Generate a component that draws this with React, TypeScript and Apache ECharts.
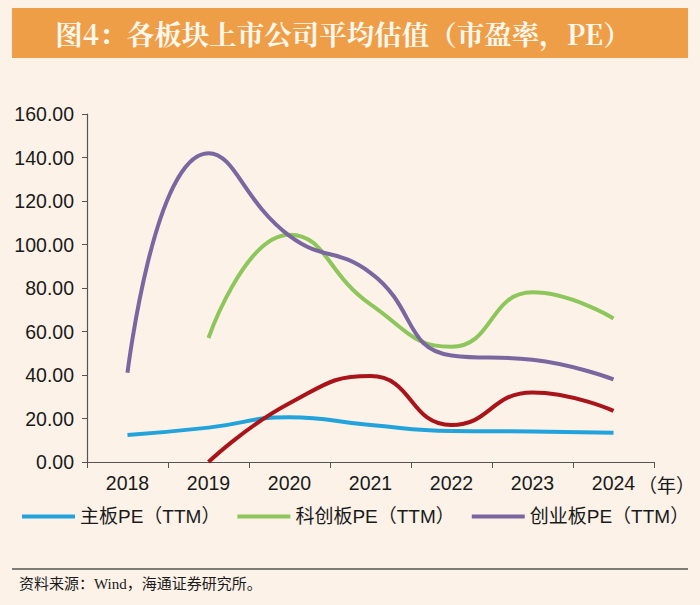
import React, { useEffect, useRef } from "react";
import * as echarts from "echarts";

const years = ["2018", "2019", "2020", "2021", "2022", "2023", "2024"];
const mainBoard = [12.4, 15.8, 20.6, 17.0, 14.3, 14.0, 13.5];
const starMarket = [null, 57.0, 104.5, 72.5, 53.0, 78.0, 66.0];
const chiNext = [41.0, 142.0, 104.0, 87.0, 49.0, 47.0, 38.0];
const redSeries = [null, 0, 27.0, 39.5, 17.0, 32.0, 23.5];
const seriesNames = ["主板PE（TTM）", "科创板PE（TTM）", "创业板PE（TTM）"];
const yTicks = { min: 0, max: 160, interval: 20 };

const FONT = "'Liberation Sans', Arial, 'Noto Sans CJK SC', sans-serif";

export default function App() {
  const ref = useRef<HTMLDivElement>(null);
  useEffect(() => {
    document.body.style.margin = "0";
    const chart = echarts.init(ref.current!, null, { renderer: "svg" });
    const lineSeries = (name: string, data: any[], color: string) => ({
      name,
      type: "line",
      data,
      smooth: true,
      symbol: "none",
      connectNulls: false,
      lineStyle: { color, width: 4 },
      itemStyle: { color },
    });
    chart.setOption({
      animation: false,
      backgroundColor: "#FCF2E8",
      textStyle: { fontFamily: FONT },
      grid: { left: 87, right: 46, top: 114, bottom: 143 },
      legend: {
        data: seriesNames,
        left: 22,
        top: 507,
        width: 690,
        padding: 0,
        icon: "rect",
        itemWidth: 53,
        itemHeight: 4,
        itemGap: 17,
        textStyle: { fontSize: 19, color: "#1a1a1a", fontFamily: FONT },
      },
      xAxis: {
        type: "category",
        data: years,
        boundaryGap: true,
        axisLine: { lineStyle: { color: "#555", width: 1.2 } },
        axisTick: { show: true, length: 6, lineStyle: { color: "#555" } },
        axisLabel: { fontSize: 19.5, color: "#1a1a1a", margin: 11, fontFamily: FONT },
      },
      yAxis: {
        type: "value",
        min: yTicks.min,
        max: yTicks.max,
        interval: yTicks.interval,
        splitLine: { show: false },
        axisLine: { show: true, lineStyle: { color: "#555", width: 1.2 } },
        axisTick: { show: true, length: 5, lineStyle: { color: "#555" } },
        axisLabel: {
          fontSize: 19.5,
          color: "#1a1a1a",
          margin: 13,
          fontFamily: FONT,
          formatter: (v: number) => v.toFixed(2),
        },
      },
      series: [
        lineSeries(seriesNames[0], mainBoard, "#22A3DC"),
        lineSeries(seriesNames[1], starMarket, "#8DC65A"),
        lineSeries(seriesNames[2], chiNext, "#7B67A0"),
        lineSeries("red", redSeries, "#A8141A"),
      ],
      graphic: [
        {
          type: "rect",
          shape: { x: 12, y: 8, width: 676, height: 50 },
          style: { fill: "#EF9E48" },
          silent: true,
        },
        {
          type: "text",
          x: 343,
          y: 33,
          style: {
            text: "图4：各板块上市公司平均估值（市盈率，PE）",
            fill: "#FFF8EE",
            font: "bold 27.5px 'Noto Serif CJK SC', 'Noto Sans CJK SC', serif",
            align: "center",
            verticalAlign: "middle",
          },
        },
        {
          type: "text",
          x: 638,
          y: 484,
          style: {
            text: "（年）",
            fill: "#1a1a1a",
            font: "19px 'Noto Sans CJK SC', sans-serif",
            align: "left",
            verticalAlign: "middle",
          },
        },
        {
          type: "line",
          shape: { x1: 12, y1: 569, x2: 688, y2: 569 },
          style: { stroke: "#555", lineWidth: 1.5 },
        },
        {
          type: "text",
          x: 19,
          y: 584,
          style: {
            text: "资料来源：Wind，海通证券研究所。",
            fill: "#1a1a1a",
            font: "15px 'Liberation Serif', 'Noto Sans CJK SC', serif",
            align: "left",
            verticalAlign: "middle",
          },
        },
      ],
    });
    return () => chart.dispose();
  }, []);
  return <div ref={ref} style={{ width: 700, height: 605 }} />;
}
